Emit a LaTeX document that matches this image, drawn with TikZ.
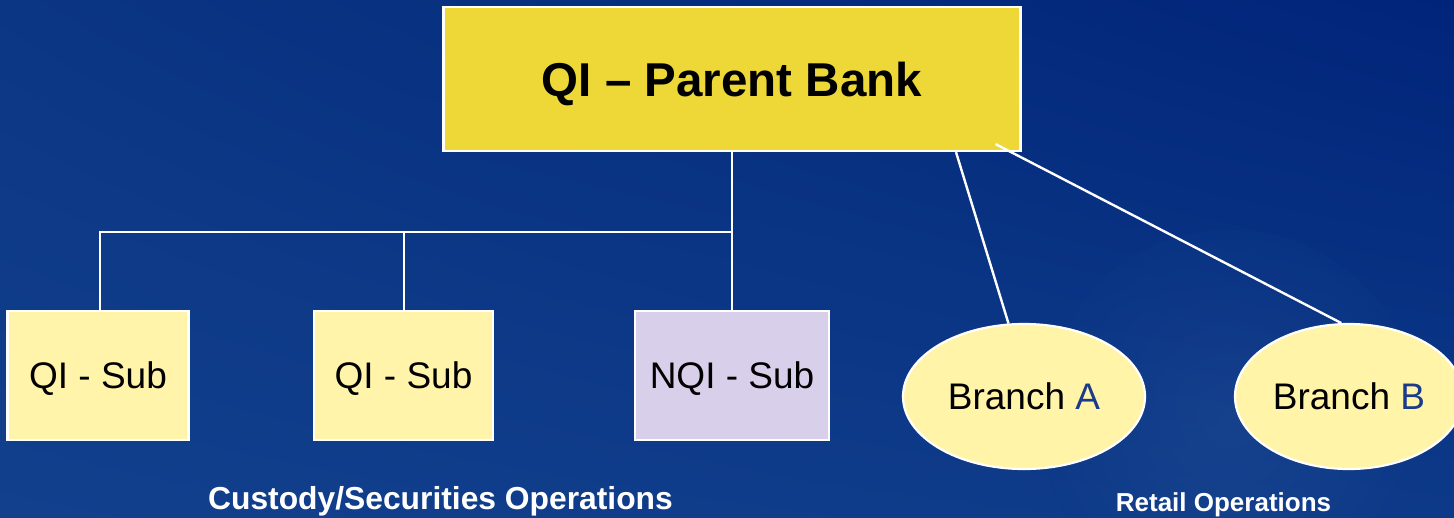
\documentclass[tikz,border=0pt]{standalone}
\usepackage{fontspec}
\setmainfont{Liberation Sans}
\usetikzlibrary{shapes.geometric,calc,shadings}

\definecolor{bgtl}{HTML}{0B3683}
\definecolor{bgtr}{HTML}{00247A}
\definecolor{bgbl}{HTML}{12408D}
\definecolor{bgbr}{HTML}{0D3A88}
\definecolor{parentfill}{HTML}{EED838}
\definecolor{subfill}{HTML}{FFF4AA}
\definecolor{nqifill}{HTML}{D8CFEA}
\definecolor{branchfill}{HTML}{FFF4A8}
\definecolor{letterblue}{HTML}{1A3A8C}

\tikzset{
  orgbox/.style={draw=white, line width=2.2pt, rectangle, inner sep=0pt},
  parentbox/.style={orgbox, fill=parentfill, minimum width=577pt, minimum height=144pt,
    font=\fontsize{47.5}{50}\selectfont\bfseries, text height=34pt, text depth=0pt},
  subbox/.style={orgbox, fill=subfill, minimum width=181pt, minimum height=129pt,
    font=\fontsize{37}{40}\selectfont, text height=26.5pt, text depth=0pt},
  branchoval/.style={draw=white, line width=2.2pt, ellipse, inner sep=0pt, fill=branchfill,
    minimum height=145pt, font=\fontsize{37}{40}\selectfont, text height=26.5pt, text depth=0pt},
  link/.style={draw=white, line width=2.4pt},
  oplabel/.style={text=white, font=\bfseries, anchor=base, inner sep=0pt}
}

\begin{document}
\begin{tikzpicture}[x=1pt, y=-1pt]
  % backdrop
  \useasboundingbox (0,0) rectangle (1454,517);
  \shade[upper left=bgtl, upper right=bgtr, lower left=bgbl, lower right=bgbr]
    (0,0) rectangle (1454,517);
  \shade[inner color=bgbl!85!white, outer color=bgbr, opacity=0.25]
    (1230,420) circle (190);

  % parent bank
  \node[parentbox] (parent) at (732,79) {QI – Parent Bank};

  % subsidiaries
  \node[subbox] (qi1) at (98,375.5) {QI - Sub};
  \node[subbox, minimum width=179pt] (qi2) at (403.5,375.5) {QI - Sub};
  \node[subbox, fill=nqifill, minimum width=194pt] (nqi) at (732,375.5) {NQI - Sub};

  % branches
  \node[branchoval, minimum width=242pt] (brA) at (1024,396.5) {Branch \textcolor{letterblue}{A}};
  \node[branchoval, minimum width=228pt] (brB) at (1349,396.5) {Branch \textcolor{letterblue}{B}};

  % group labels
  \node[oplabel, font=\fontsize{31.8}{34}\selectfont\bfseries] (custody) at (440.5,509) {Custody/Securities Operations};
  \node[oplabel, font=\fontsize{26}{28}\selectfont\bfseries] (retail) at (1223.5,511) {Retail Operations};

  % connectors
  \coordinate (junction) at (parent.south |- 0,232);
  \coordinate (pA) at ([xshift=224pt]parent.south);
  \coordinate (pB) at ([xshift=-26pt, yshift=8pt]parent.south east);
  \draw[link] (parent.south) -- (nqi.north);
  \draw[link] ([xshift=2pt]qi1.north) |- (junction);
  \draw[link] ([xshift=0.5pt]qi2.north) -- ([xshift=0.5pt]qi2.north |- junction);
  \draw[link] (pA) -- (brA.102);
  \draw[link] (pB) -- (brB.96);
\end{tikzpicture}
\end{document}
